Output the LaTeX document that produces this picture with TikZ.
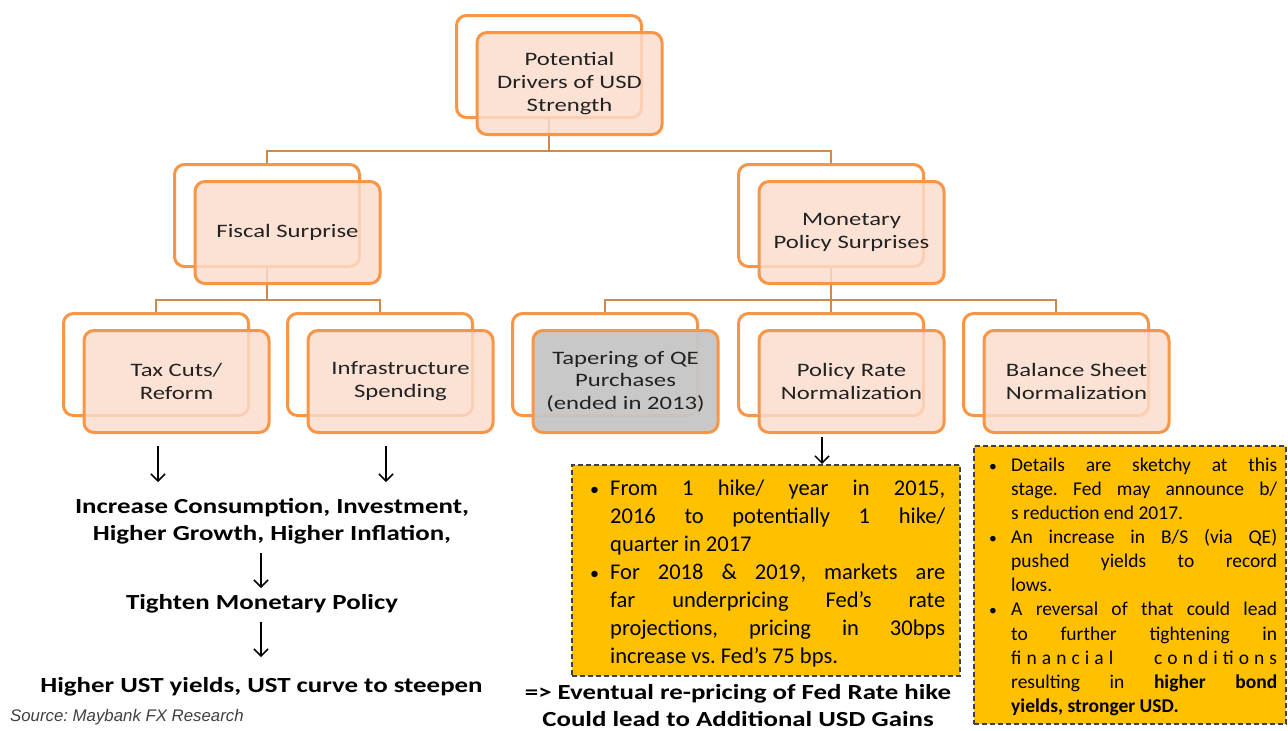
\documentclass[tikz,border=0pt]{standalone}
\usepackage{fontspec}
\setmainfont{Carlito}
\newfontfamily\boxfont{Carlito}[FakeStretch=1.3]
\newfontfamily\flowfont{Carlito}[FakeStretch=1.25]
\newfontfamily\srcfont{Liberation Sans}
\usetikzlibrary{arrows.meta,calc}
\definecolor{borange}{HTML}{F79646}
\definecolor{conncol}{HTML}{D0894A}
\definecolor{peach}{HTML}{FBDCCC}
\definecolor{graybox}{HTML}{C6C6C6}
\definecolor{gold}{HTML}{FFC000}
\definecolor{dashc}{HTML}{3F3F3F}
\definecolor{txt}{HTML}{222222}
\definecolor{srcgray}{HTML}{404040}
\pgfdeclarelayer{bg}
\pgfsetlayers{bg,main}
\tikzset{
  backbox/.style={draw=borange, line width=3pt, rounded corners=10pt, fill=white,
    minimum width=185pt, minimum height=102pt, inner sep=0pt, anchor=north west},
  frontbox/.style={draw=borange, line width=3pt, rounded corners=10pt, fill=peach,
    fill opacity=0.82, text opacity=1, minimum width=185pt, minimum height=102pt,
    inner sep=2pt, align=center, text=txt, font=\fontsize{19}{23}\boxfont},
  graystyle/.style={fill=graybox, fill opacity=0.95},
  conn/.style={draw=conncol, line width=2.8pt},
  arr/.style={draw=black, line width=1.5pt, -{Straight Barb[length=7pt,width=14pt]}},
  boldtxt/.style={font=\fontsize{21.5}{27}\flowfont\bfseries, align=center, text=black, inner sep=0pt},
  ybox/.style={draw=dashc, line width=1.8pt, dash pattern=on 5pt off 3pt, fill=gold,
    anchor=north west, inner sep=0pt},
  bullettxt/.style={anchor=north west, inner sep=0pt, align=justify, text=black},
}
\newcommand{\bul}[1]{\par\noindent\hangindent=#1\hangafter=1\makebox[#1][l]{\scalebox{0.8}{•}}}
\begin{document}
\frenchspacing
\begin{tikzpicture}[x=1pt,y=-1pt]
\useasboundingbox (0,0) rectangle (1288,731);

% back boxes
\node[backbox] (topb) at (455,14) {};
\node[backbox] (fisb) at (173,163) {};
\node[backbox] (monb) at (737,163) {};
\node[backbox] (taxb) at (62,312) {};
\node[backbox] (infb) at (286,312) {};
\node[backbox] (tapb) at (511,312) {};
\node[backbox] (polb) at (737,312) {};
\node[backbox] (balb) at (962,312) {};

% front boxes
\node[frontbox] (topf) at ($(topb.center)+(20.5,17)$) {Potential\\Drivers of USD\\Strength};
\node[frontbox] (fisf) at ($(fisb.center)+(20.5,17)$) {Fiscal Surprise};
\node[frontbox] (monf) at ($(monb.center)+(20.5,17)$) {Monetary\\Policy Surprises};
\node[frontbox] (taxf) at ($(taxb.center)+(20.5,17)$) {Tax Cuts/\\Reform};
\node[frontbox] (inff) at ($(infb.center)+(20.5,17)$) {Infrastructure\\Spending};
\node[frontbox, graystyle, font=\fontsize{19}{22.5}\boxfont] (tapf) at ($(tapb.center)+(20.5,17)$) {Tapering of QE\\Purchases\\(ended in 2013)};
\node[frontbox] (polf) at ($(polb.center)+(20.5,17)$) {Policy Rate\\Normalization};
\node[frontbox] (balf) at ($(balb.center)+(20.5,17)$) {Balance Sheet\\Normalization};

% connectors
\begin{pgfonlayer}{bg}
\fill[white] (0,0) rectangle (1288,731);
\draw[conn] (topb.south) -- ++(0,32) coordinate (j1);
\draw[conn] (fisb.north) |- (j1) -| (monb.north);
\draw[conn] (fisb.south) -- ++(0,32) coordinate (j2);
\draw[conn] (taxb.north) |- (j2) -| (infb.north);
\draw[conn] (monb.south) -- ++(0,32) coordinate (j3);
\draw[conn] (tapb.north) |- (j3) -| (balb.north);
\draw[conn] (j3) -- (polb.north);
\end{pgfonlayer}

% left flow
\node[boldtxt] (incr) at (272,521) {Increase Consumption, Investment,\\Higher Growth, Higher Inflation,};
\node[boldtxt] (tight) at (262,604) {Tighten Monetary Policy};
\node[boldtxt] (ust) at (261.5,687) {Higher UST yields, UST curve to steepen};
\node[anchor=west, inner sep=0pt, text=srcgray, font=\fontsize{16.8}{20}\srcfont\itshape] (src) at (10,717) {Source: Maybank FX Research};

\coordinate (a1s) at (158,446);
\coordinate (a1e) at (158,482);
\coordinate (a2s) at (386,446);
\coordinate (a2e) at (386,482);
\coordinate (a3s) at (261,553);
\coordinate (a3e) at (261,588);
\coordinate (a4s) at (261,622);
\coordinate (a4e) at (261,657);
\draw[arr] (a1s) -- (a1e);
\draw[arr] (a2s) -- (a2e);
\draw[arr] (a3s) -- (a3e);
\draw[arr] (a4s) -- (a4e);

% yellow box 1
\node[ybox, minimum width=388pt, minimum height=211pt] (yb1) at (571,464) {};
\coordinate (a5s) at (822,437);
\draw[arr] (a5s) -- (yb1.north -| a5s);
\node[bullettxt, text width=355pt, font=\fontsize{22.5}{28}\selectfont] (t1) at (590,467) {%
\bul{20pt}From 1 hike/ year in 2015,\linebreak 2016 to potentially 1 hike/\linebreak quarter in 2017\par
\bul{20pt}For 2018 \& 2019, markets are\linebreak far underpricing Fed’s rate\linebreak projections, pricing in 30bps\linebreak increase vs. Fed’s 75 bps.\par};
\node[boldtxt] (evt) at (738,706) {=> Eventual re-pricing of Fed Rate hike\\Could lead to Additional USD Gains};

% yellow box 2
\node[ybox, minimum width=312pt, minimum height=278pt] (yb2) at (973,445) {};
\node[bullettxt, text width=288pt, font=\fontsize{19.5}{24.1}\selectfont] (t2) at (989,447) {%
\bul{22pt}Details are sketchy at this\linebreak stage. Fed may announce b/\linebreak s reduction end 2017.\par
\bul{22pt}An increase in B/S (via QE)\linebreak pushed yields to record\linebreak lows.\par
\bul{22pt}A reversal of that could lead\linebreak to further tightening in\linebreak {\addfontfeature{LetterSpace=26}financial\hspace{30pt plus 20pt}conditions}\linebreak resulting in \textbf{higher bond\linebreak yields, stronger USD.}\par};
\end{tikzpicture}
\end{document}
